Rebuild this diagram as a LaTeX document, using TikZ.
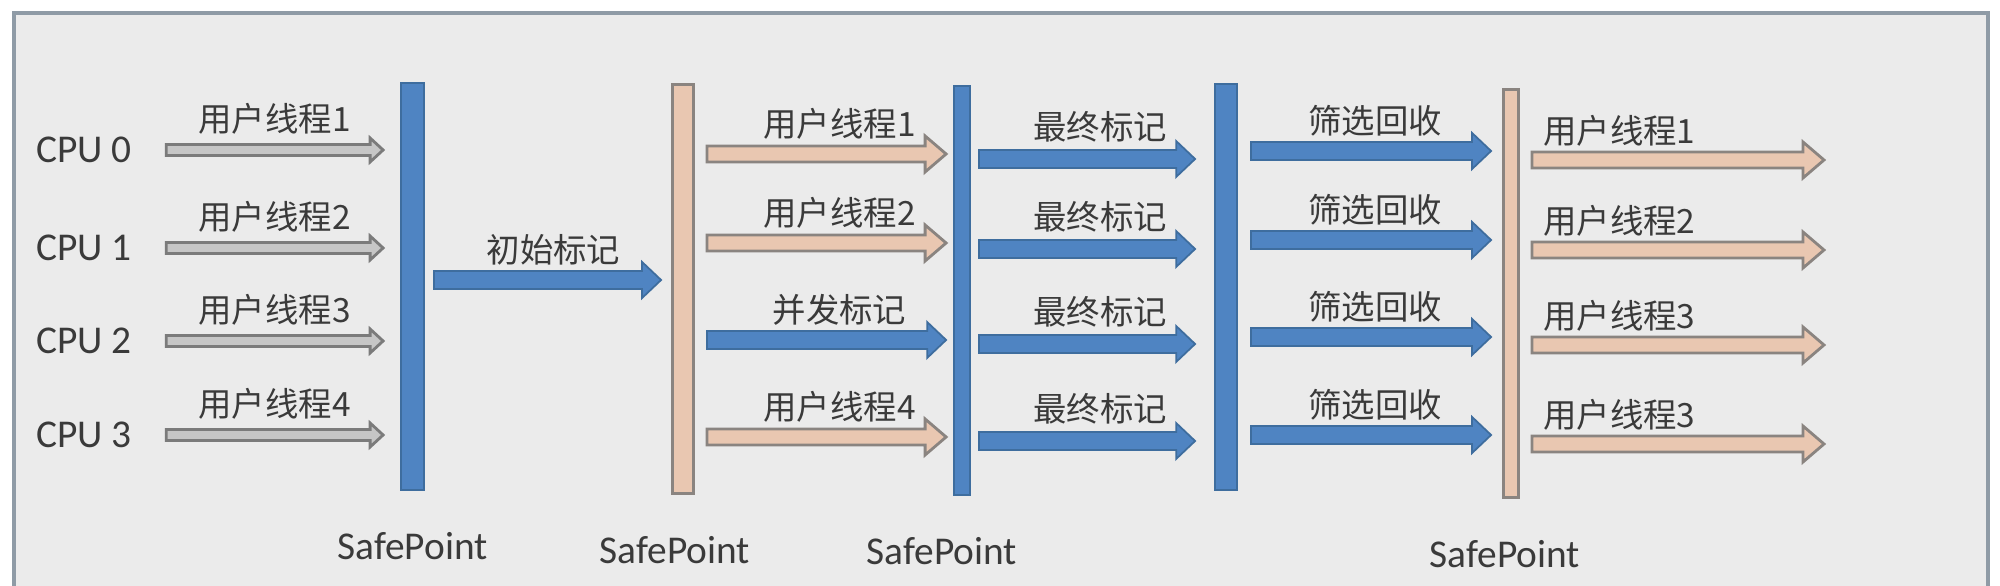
\documentclass[tikz,border=0pt]{standalone}
\usepackage{fontspec}
\setmainfont{Carlito}
\newfontfamily\cjk{Noto Sans CJK SC}
\usepackage{tikz}
\usetikzlibrary{calc,positioning}

\definecolor{panelGray}{HTML}{EBEBEB}
\definecolor{frameGray}{HTML}{8F9BA6}
\definecolor{spBlue}{HTML}{4F84C2}
\definecolor{spBlueDark}{HTML}{3E6D9E}
\definecolor{spTan}{HTML}{E9C7B1}
\definecolor{tanEdge}{HTML}{8A8480}
\definecolor{thrGray}{HTML}{C6C6C6}
\definecolor{thrEdge}{HTML}{7B7B7B}
\definecolor{txtGray}{HTML}{3A3A3A}

\tikzset{
	panel/.style={fill=panelGray, draw=frameGray, line width=1.1pt},
	bluebar/.style={rectangle, inner sep=0pt, fill=spBlue, draw=spBlueDark, line width=0.5pt},
	tanbar/.style={rectangle, inner sep=0pt, fill=spTan, draw=tanEdge, line width=0.8pt},
	cpu/.style={font=\fontsize{11.2}{13}\selectfont, text=txtGray},
	sp/.style={font=\fontsize{11.2}{13}\selectfont, text=txtGray},
	lbl/.style={font=\cjk\fontsize{9.5}{11}\selectfont, text=txtGray},
	grayarrow/.style={fill=thrGray, draw=thrEdge, line width=0.8pt},
	bluearrow/.style={fill=spBlue, draw=spBlueDark, line width=0.5pt},
	tanarrow/.style={fill=spTan, draw=tanEdge, line width=0.8pt}
}

% block arrow: style, from, to, half shaft, half head, head length
\newcommand{\fatarrow}[6]{%
	\draw[#1] ($(#2)+(0,#4)$) -- ($(#3)+(-#6,#4)$) -- ($(#3)+(-#6,#5)$) -- (#3)
		-- ($(#3)+(-#6,-#5)$) -- ($(#3)+(-#6,-#4)$) -- ($(#2)+(0,-#4)$) -- cycle;}
\newcommand{\grayarr}[2]{\fatarrow{grayarrow}{#1}{#2}{5.5}{12}{13}}
\newcommand{\bluearr}[2]{\fatarrow{bluearrow}{#1}{#2}{9}{18}{19}}
\newcommand{\tanarr}[2]{\fatarrow{tanarrow}{#1}{#2}{8}{18}{21}}

\begin{document}
\begin{tikzpicture}[x=0.01cm, y=-0.01cm, node distance=0.29cm]
	\useasboundingbox (0,0) rectangle (2000,586);
	\clip (0,0) rectangle (2000,586);

	% Frame
	\draw[panel] (14,13) rectangle (1988,640);

	% SafePoint bars
	\node[bluebar, minimum width=0.23cm, minimum height=4.07cm] (sp1) at (412.5,286.5) {};
	\node[tanbar,  minimum width=0.21cm, minimum height=4.08cm] (sp2) at (683,289) {};
	\node[bluebar, minimum width=0.16cm, minimum height=4.09cm] (sp3) at (962,290.5) {};
	\node[bluebar, minimum width=0.22cm, minimum height=4.06cm] (sp4) at (1226,287) {};
	\node[tanbar,  minimum width=0.15cm, minimum height=4.07cm] (sp5) at (1511,293.5) {};

	\node[sp, below=of sp1] (spl1) {SafePoint};
	\node[sp, below=of sp2, xshift=-0.08cm] (spl2) {SafePoint};
	\node[sp, below=of sp3, xshift=-0.2cm] (spl3) {SafePoint};
	\node[sp, below=of sp5, xshift=-0.06cm] (spl5) {SafePoint};

	% CPUs, user threads
	\foreach \i/\yy/\t in {0/150/用户线程1,1/248/用户线程2,2/341/用户线程3,3/435/用户线程4}{
		\node[cpu] (cpu\i) at (84,\yy) {CPU \i};
		\coordinate (t1a\i) at ($(cpu\i.east)+(22,0)$);
		\coordinate (t1b\i) at ($(sp1.west |- t1a\i)+(-17,0)$);
		\grayarr{t1a\i}{t1b\i}
		\node[lbl] (t1l\i) at ($(t1a\i)!0.5!(t1b\i)+(0,-31)$) {\t};
	}

	% Initial mark
	\coordinate (imrow) at (0,280);
	\coordinate (ima) at ($(sp1.east |- imrow)+(9,0)$);
	\coordinate (imb) at ($(sp2.west |- imrow)+(-10,0)$);
	\bluearr{ima}{imb}
	\node[lbl] (iml) at ($(ima)!0.5!(imb)+(6,-30)$) {初始标记};

	% Concurrent mark
	\foreach \i/\yy/\k/\t in {0/154/tan/用户线程1,1/243/tan/用户线程2,2/340/blue/并发标记,3/437/tan/用户线程4}{
		\coordinate (r2\i) at (0,\yy);
		\coordinate (t2a\i) at ($(sp2.east |- r2\i)+(12,0)$);
		\coordinate (t2b\i) at ($(sp3.west |- r2\i)+(-7,0)$);
		\csname\k arr\endcsname{t2a\i}{t2b\i}
		\node[lbl] (t2l\i) at ($(t2a\i)!0.5!(t2b\i)+(13,-30)$) {\t};
	}

	% Final mark
	\foreach \i/\yy in {0/159,1/249,2/344,3/441}{
		\coordinate (r3\i) at (0,\yy);
		\coordinate (t3a\i) at ($(sp3.east |- r3\i)+(8,0)$);
		\coordinate (t3b\i) at ($(sp4.west |- r3\i)+(-19,0)$);
		\bluearr{t3a\i}{t3b\i}
		\node[lbl] (t3l\i) at ($(t3a\i)!0.5!(t3b\i)+(13,-32)$) {最终标记};
	}

	% Cleanup
	\foreach \i/\yy in {0/151,1/240,2/337,3/435}{
		\coordinate (r4\i) at (0,\yy);
		\coordinate (t4a\i) at ($(sp4.east |- r4\i)+(13,0)$);
		\coordinate (t4b\i) at ($(sp5.west |- r4\i)+(-11,0)$);
		\bluearr{t4a\i}{t4b\i}
		\node[lbl] (t4l\i) at ($(t4a\i)!0.5!(t4b\i)+(4,-30)$) {筛选回收};
	}

	% User threads again
	\foreach \i/\yy/\t in {0/160/用户线程1,1/250/用户线程2,2/345/用户线程3,3/444/用户线程3}{
		\coordinate (t5a\i) at ($(sp5.east |- 0,\yy)+(12,0)$);
		\coordinate (t5b\i) at (1824,\yy);
		\tanarr{t5a\i}{t5b\i}
		\node[lbl, anchor=west] (t5l\i) at ($(t5a\i)+(-1,-29)$) {\t};
	}
\end{tikzpicture}
\end{document}
